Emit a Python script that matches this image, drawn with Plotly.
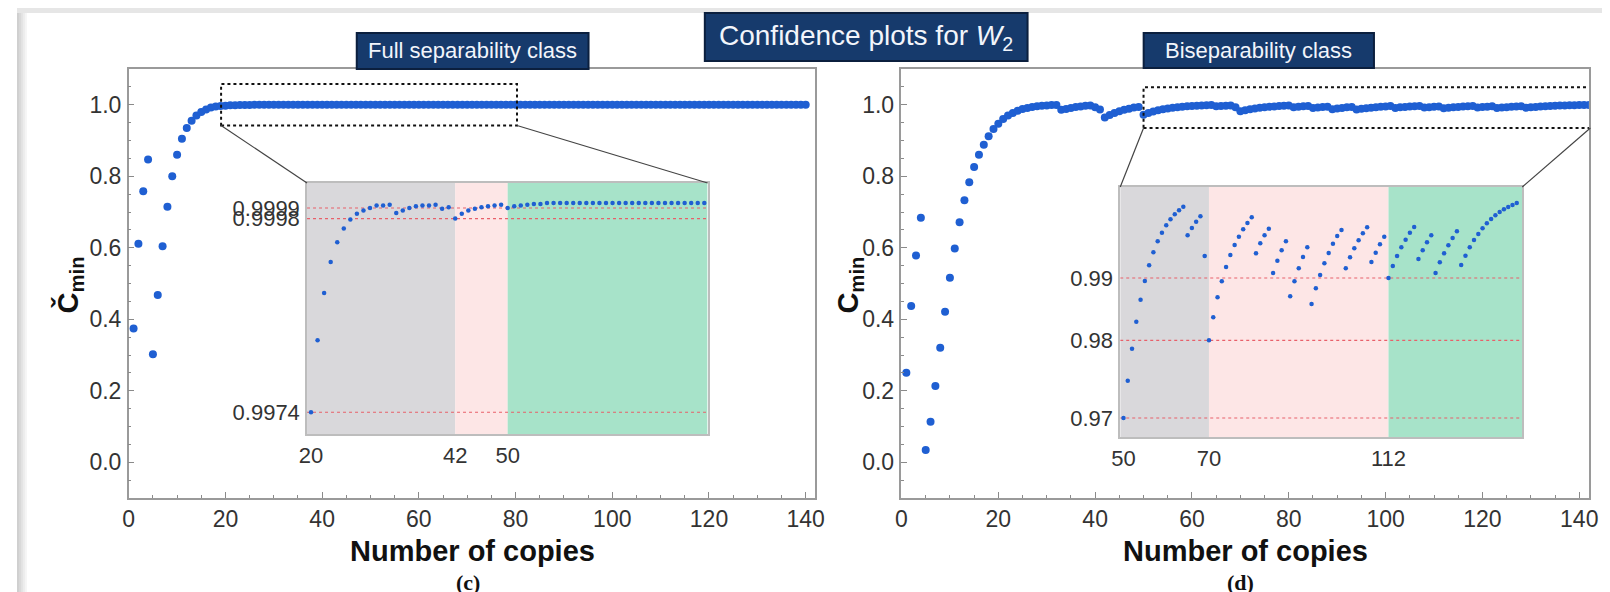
import plotly.graph_objects as go

W, H = 1610, 592

# ---------------- data ----------------
# (c) Full separability class
left_early_x = list(range(1, 20))
left_early_y = [0.374, 0.611, 0.758, 0.847, 0.302, 0.468, 0.604, 0.715, 0.800, 0.860,
                0.905, 0.935, 0.955, 0.970, 0.980, 0.987, 0.992, 0.995, 0.9966]
left_zoom_x = list(range(20, 81))
left_zoom_y = [0.99740, 0.99828, 0.99886, 0.99924, 0.99948, 0.99965, 0.99976, 0.99983, 0.99987, 0.99990,
               0.99993, 0.99993, 0.99994, 0.99984, 0.99987, 0.99990, 0.99992, 0.99993, 0.99993, 0.99994,
               0.99989, 0.99991, 0.99977, 0.99983, 0.99987, 0.99989, 0.99991, 0.99992, 0.99993, 0.99994,
               0.99990, 0.99992, 0.99993, 0.99994, 0.99995, 0.99995, 0.99996, 0.99996, 0.99996, 0.99996,
               0.99996, 0.99996, 0.99996, 0.99996, 0.99996, 0.99996, 0.99996, 0.99996, 0.99996, 0.99996,
               0.99996, 0.99996, 0.99996, 0.99996, 0.99996, 0.99996, 0.99996, 0.99996, 0.99996, 0.99996,
               0.99996]
left_tail_x = list(range(81, 141))
left_tail_y = [0.99996, 0.99996, 0.99996, 0.99996, 0.99996, 0.99996, 0.99996, 0.99996, 0.99996, 0.99996,
               0.99996, 0.99996, 0.99996, 0.99996, 0.99996, 0.99996, 0.99996, 0.99996, 0.99996, 0.99996,
               0.99996, 0.99996, 0.99996, 0.99996, 0.99996, 0.99996, 0.99996, 0.99996, 0.99996, 0.99996,
               0.99996, 0.99996, 0.99996, 0.99996, 0.99996, 0.99996, 0.99996, 0.99996, 0.99996, 0.99996,
               0.99996, 0.99996, 0.99996, 0.99996, 0.99996, 0.99996, 0.99996, 0.99996, 0.99996, 0.99996,
               0.99996, 0.99996, 0.99996, 0.99996, 0.99996, 0.99996, 0.99996, 0.99996, 0.99996, 0.99996]
left_ref_x = [20, 42, 50]
left_ref_labels = ["0.9974", "0.9998", "0.9999"]

# (d) Biseparability class
right_early_x = list(range(1, 50))
right_early_y = [0.250, 0.437, 0.578, 0.684, 0.034, 0.113, 0.213, 0.320, 0.421, 0.516,
                 0.598, 0.671, 0.733, 0.783, 0.826, 0.860, 0.888, 0.912, 0.932, 0.947,
                 0.960, 0.970, 0.977, 0.983, 0.988, 0.991, 0.9935, 0.9955, 0.997, 0.998,
                 0.999, 0.9995, 0.986, 0.988, 0.991, 0.9935, 0.995, 0.997, 0.998, 0.993,
                 0.987, 0.964, 0.971, 0.977, 0.982, 0.986, 0.989, 0.992, 0.994]
right_zoom_x = list(range(50, 143))
right_zoom_y = [0.97200, 0.97680, 0.98091, 0.98438, 0.98721, 0.98961, 0.99163, 0.99330, 0.99472, 0.99583,
                0.99678, 0.99755, 0.99819, 0.99870, 0.99917, 0.99549, 0.99643, 0.99724, 0.99793, 0.99283,
                0.98199, 0.98494, 0.98752, 0.98957, 0.99141, 0.99296, 0.99424, 0.99531, 0.99626, 0.99707,
                0.99780, 0.99318, 0.99446, 0.99549, 0.99634, 0.99064, 0.99223, 0.99356, 0.99472, 0.98765,
                0.98957, 0.99124, 0.99270, 0.99395, 0.98666, 0.98867, 0.99039, 0.99189, 0.99321, 0.99441,
                0.99540, 0.99617, 0.99124, 0.99266, 0.99382, 0.99485, 0.99575, 0.99652, 0.99206, 0.99325,
                0.99433, 0.99531, 0.99000, 0.99154, 0.99283, 0.99395, 0.99493, 0.99583, 0.99656, 0.99244,
                0.99356, 0.99459, 0.99549, 0.99064, 0.99202, 0.99318, 0.99420, 0.99514, 0.99600, 0.99167,
                0.99287, 0.99395, 0.99489, 0.99566, 0.99639, 0.99703, 0.99759, 0.99806, 0.99849, 0.99883,
                0.99913, 0.99939, 0.99964]
right_ref_x = [50, 70, 112]
right_ref_labels = ["0.97", "0.98", "0.99"]

main_xticks = [0, 20, 40, 60, 80, 100, 120, 140]
main_yticks = [0.0, 0.2, 0.4, 0.6, 0.8, 1.0]

# ---------------- layout geometry (pixels) ----------------
L_BOX = (113.0, 807.4, 61.0, 490.0)     # x0, x1, ytop, ybottom
R_BOX = (894.5, 1589.7, 61.0, 490.0)
MAIN_XR = [0, 142]
MAIN_YR = [-0.1, 1.1]
LI_BOX = (293.3, 698.4, 175.0, 426.0)
LI_XR = [19.39, 80.5]
LI_YR = [0.997134, 1.000206]
RI_BOX = (1115.7, 1522.3, 179.0, 429.3)
RI_XR = [49.24, 143.29]
RI_YR = [0.96952, 1.0017]
ZOOM_L = (19.1, 80.3, 0.942, 1.058)
ZOOM_R = (50.0, 142.3, 0.935, 1.049)

BLUE = "#1f5fd2"
FONT = "Liberation Sans"


def pxx(p):
    return p / W


def pxy(p):
    return 1 - p / H


def dom_x(box):
    return [pxx(box[0]), pxx(box[1])]


def dom_y(box):
    return [pxy(box[3]), pxy(box[2])]


def to_paper(box, xr, yr, x, y):
    px = box[0] + (x - xr[0]) / (xr[1] - xr[0]) * (box[1] - box[0])
    py = box[3] - (y - yr[0]) / (yr[1] - yr[0]) * (box[3] - box[2])
    return pxx(px), pxy(py)


def lookup(xs, ys, x):
    return ys[xs.index(x)]


fig = go.Figure()

# main scatter
fig.add_trace(go.Scatter(x=left_early_x + left_zoom_x + left_tail_x,
                         y=left_early_y + left_zoom_y + left_tail_y,
                         mode="markers", marker=dict(size=8, color=BLUE),
                         xaxis="x", yaxis="y", showlegend=False, hoverinfo="skip"))
fig.add_trace(go.Scatter(x=right_early_x + right_zoom_x,
                         y=right_early_y + right_zoom_y,
                         mode="markers", marker=dict(size=8, color=BLUE),
                         xaxis="x2", yaxis="y2", showlegend=False, hoverinfo="skip"))
# inset scatter
fig.add_trace(go.Scatter(x=left_zoom_x, y=left_zoom_y, mode="markers",
                         marker=dict(size=4.5, color=BLUE),
                         xaxis="x3", yaxis="y3", showlegend=False, hoverinfo="skip"))
fig.add_trace(go.Scatter(x=right_zoom_x, y=right_zoom_y, mode="markers",
                         marker=dict(size=4.5, color=BLUE),
                         xaxis="x4", yaxis="y4", showlegend=False, hoverinfo="skip"))

left_ref_y = [lookup(left_zoom_x, left_zoom_y, v) for v in left_ref_x]
right_ref_y = [lookup(right_zoom_x, right_zoom_y, v) for v in right_ref_x]

tickfont = dict(family=FONT, size=23, color="#333333")
main_x = dict(range=MAIN_XR, tickvals=main_xticks, showline=True, linecolor="#9a9a9a", linewidth=1.5,
              mirror=True, ticks="inside", ticklen=6, tickcolor="#8a8a8a", showgrid=False, zeroline=False,
              tickfont=tickfont, ticklabelstandoff=0,
              minor=dict(dtick=5, tick0=0, ticks="inside", ticklen=3, tickcolor="#8a8a8a"))
main_y = dict(range=MAIN_YR, tickvals=main_yticks, tickformat=".1f", showline=True, linecolor="#9a9a9a",
              linewidth=1.5, mirror=True, ticks="inside", ticklen=6, tickcolor="#8a8a8a", showgrid=False,
              zeroline=False, tickfont=tickfont, ticklabelstandoff=1,
              minor=dict(dtick=0.05, tick0=0, ticks="inside", ticklen=3, tickcolor="#8a8a8a"))

inset_font = dict(family=FONT, size=22, color="#333333")


def inset_x(box, xr, ticks):
    return dict(domain=dom_x(box), range=xr, tickvals=ticks, ticktext=[str(t) for t in ticks],
                showline=True, linecolor="#bdbdbd", linewidth=1.5, mirror=True, ticks="", ticklen=0,
                showgrid=False, zeroline=False, tickfont=inset_font, ticklabelstandoff=1)


def inset_y(box, yr, vals, labels):
    return dict(domain=dom_y(box), range=yr, tickvals=vals, ticktext=labels,
                showline=True, linecolor="#bdbdbd", linewidth=1.5, mirror=True, ticks="", ticklen=0,
                showgrid=False, zeroline=False, tickfont=inset_font, ticklabelstandoff=1)


fig.update_layout(
    width=W, height=H, margin=dict(l=0, r=0, t=0, b=0),
    paper_bgcolor="white", plot_bgcolor="rgba(0,0,0,0)",
    xaxis=dict(domain=dom_x(L_BOX), anchor="y", **main_x),
    yaxis=dict(domain=dom_y(L_BOX), anchor="x", **main_y),
    xaxis2=dict(domain=dom_x(R_BOX), anchor="y2", **main_x),
    yaxis2=dict(domain=dom_y(R_BOX), anchor="x2", **main_y),
    xaxis3=dict(anchor="y3", **inset_x(LI_BOX, LI_XR, left_ref_x)),
    yaxis3=dict(anchor="x3", **inset_y(LI_BOX, LI_YR, left_ref_y, left_ref_labels)),
    xaxis4=dict(anchor="y4", **inset_x(RI_BOX, RI_XR, right_ref_x)),
    yaxis4=dict(anchor="x4", **inset_y(RI_BOX, RI_YR, right_ref_y, right_ref_labels)),
)

shapes = []
# page background strips
for i, c in enumerate(["#cfcfcf", "#d8d8d8", "#e2e2e2", "#ececec", "#f5f5f5"]):
    shapes.append(dict(type="rect", xref="paper", yref="paper", x0=pxx(i * 2), x1=pxx(i * 2 + 2),
                       y0=0, y1=1, fillcolor=c, line=dict(width=0), layer="below"))
shapes.append(dict(type="rect", xref="paper", yref="paper", x0=0, x1=1, y0=pxy(5), y1=1,
                   fillcolor="#e6e6e6", line=dict(width=0), layer="below"))

# inset coloured regions
GRAY, PINK, GREEN = "#d9d8db", "#fde6e6", "#a7e3c9"
for (xr, yr, ax, bounds) in [(LI_XR, LI_YR, ("x3", "y3"), left_ref_x), (RI_XR, RI_YR, ("x4", "y4"), right_ref_x)]:
    edges = [xr[0], bounds[1], bounds[2], xr[1]]
    for c, a, b in zip([GRAY, PINK, GREEN], edges[:-1], edges[1:]):
        shapes.append(dict(type="rect", xref=ax[0], yref=ax[1], x0=a, x1=b, y0=yr[0], y1=yr[1],
                           fillcolor=c, line=dict(width=0), layer="below"))
# red reference lines
for (xr, ax, vals) in [(LI_XR, ("x3", "y3"), left_ref_y), (RI_XR, ("x4", "y4"), right_ref_y)]:
    for v in vals:
        shapes.append(dict(type="line", xref=ax[0], yref=ax[1], x0=xr[0], x1=xr[1], y0=v, y1=v,
                           line=dict(color="#e8606a", width=1.2, dash="dot"), layer="below"))

# dotted zoom rectangles
for (z, ax) in [(ZOOM_L, ("x", "y")), (ZOOM_R, ("x2", "y2"))]:
    shapes.append(dict(type="rect", xref=ax[0], yref=ax[1], x0=z[0], x1=z[1], y0=z[2], y1=z[3],
                       line=dict(color="#111111", width=2, dash="dot"), fillcolor="rgba(0,0,0,0)"))

# connector lines
for (z, box, ibox) in [(ZOOM_L, L_BOX, LI_BOX), (ZOOM_R, R_BOX, RI_BOX)]:
    for zx, ix in [(z[0], ibox[0]), (z[1], ibox[1])]:
        p0 = to_paper(box, MAIN_XR, MAIN_YR, zx, z[2])
        shapes.append(dict(type="line", xref="paper", yref="paper", x0=p0[0], y0=p0[1],
                           x1=pxx(ix), y1=pxy(ibox[2]), line=dict(color="#444444", width=1.2)))

# title boxes
NAVY = "#163a6c"
boxes = [((343.6, 578.0, 25, 61), "Full separability class", 22),
         ((695.6, 1022.0, 5, 53), "Confidence plots for <i>W</i><sub>2</sub>", 28),
         ((1139.4, 1372.3, 25, 60), "Biseparability class", 22)]
annotations = []
for (bx, txt, fs) in boxes:
    shapes.append(dict(type="rect", xref="paper", yref="paper", x0=pxx(bx[0]), x1=pxx(bx[1]),
                       y0=pxy(bx[3]), y1=pxy(bx[2]), fillcolor=NAVY,
                       line=dict(color="#0b1f3e", width=2)))
    annotations.append(dict(xref="paper", yref="paper", x=pxx((bx[0] + bx[1]) / 2),
                            y=pxy((bx[2] + bx[3]) / 2), text=txt, showarrow=False,
                            xanchor="center", yanchor="middle",
                            font=dict(family=FONT, size=fs, color="#f2f5fb")))

# axis titles
for cx in [(L_BOX[0] + L_BOX[1]) / 2, (R_BOX[0] + R_BOX[1]) / 2]:
    annotations.append(dict(xref="paper", yref="paper", x=pxx(cx), y=pxy(543), text="<b>Number of copies</b>",
                            showarrow=False, xanchor="center", yanchor="middle",
                            font=dict(family=FONT, size=29, color="#111111")))
for cx, lab in [(456, "(c)"), (1237, "(d)")]:
    annotations.append(dict(xref="paper", yref="paper", x=pxx(cx), y=pxy(589), text="<b>" + lab + "</b>",
                            showarrow=False, xanchor="center", yanchor="bottom",
                            font=dict(family="Liberation Serif", size=22, color="#111111")))
for cx, lab in [(53, "Č"), (842, "C")]:
    annotations.append(dict(xref="paper", yref="paper", x=pxx(cx), y=pxy(277),
                            text="<b>" + lab + "</b><sub><b>min</b></sub>", textangle=-90,
                            showarrow=False, xanchor="center", yanchor="middle",
                            font=dict(family=FONT, size=29, color="#111111")))

fig.update_layout(shapes=shapes, annotations=annotations)
fig.write_html("out.html")
